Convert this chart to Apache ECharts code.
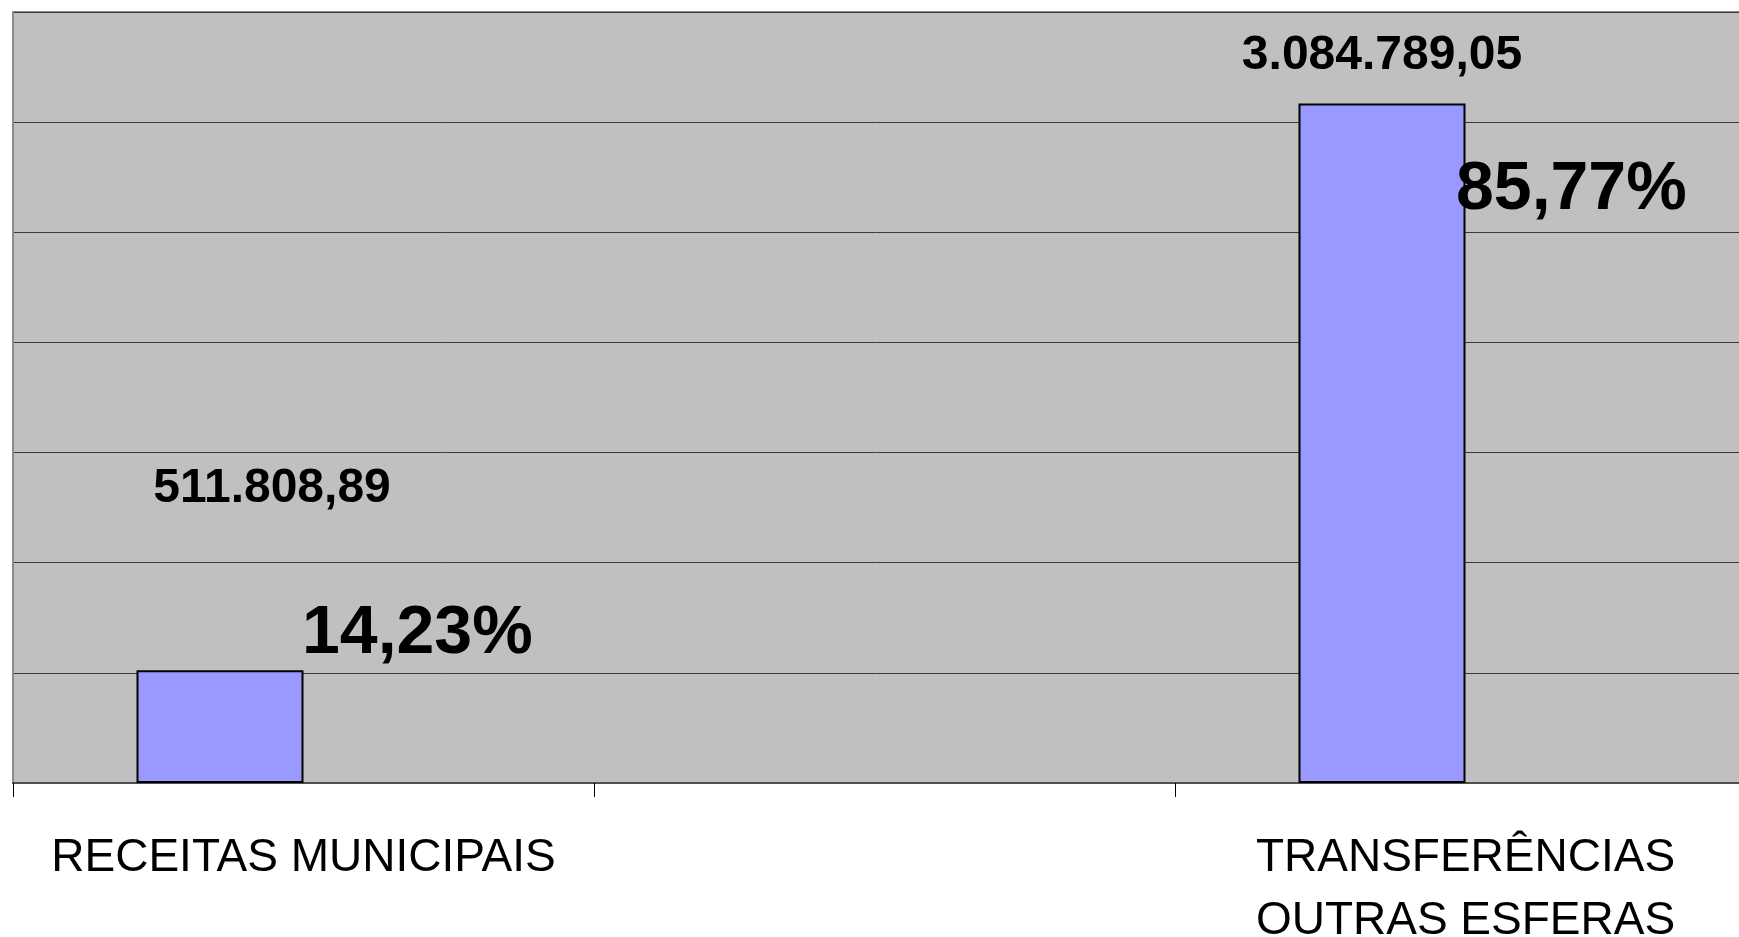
<!DOCTYPE html>
<html>
<head>
<meta charset="utf-8">
<script src="https://cdn.jsdelivr.net/npm/echarts@6/dist/echarts.min.js"></script>
<style>
html,body{margin:0;padding:0;background:#fff;}
#c{width:1739px;height:937px;}
</style>
</head>
<body>
<div id="c"></div>
<script>
const categories = ['RECEITAS MUNICIPAIS', '', 'TRANSFERÊNCIAS\nOUTRAS ESFERAS'];
const values = [511808.89, null, 3084789.05];
const valueLabels = ['511.808,89', '', '3.084.789,05'];
const percents = [14.23, null, 85.77];
const percentLabels = ['14,23%', '', '85,77%'];
const yMax = 3500000, yInterval = 500000;

const boldFont = '"Liberation Sans", Arial, sans-serif';
const valueLabelOffsets = [[52, -152], null, [0, -19]];
const percentLabelOffsets = [[-85, 0], null, [-93, 108]];

const chart = echarts.init(document.getElementById('c'));
chart.setOption({
  animation: false,
  grid: {
    left: 13, top: 12, bottom: 154, width: 1743,
    outerBoundsMode: 'none',
    show: true, backgroundColor: '#c0c0c0', borderColor: '#8c8c8c', borderWidth: 2
  },
  xAxis: {
    type: 'category',
    data: categories,
    axisLine: {lineStyle: {color: '#505050', width: 2}},
    axisTick: {show: true, length: 14, lineStyle: {color: '#000', width: 1}},
    axisLabel: {
      color: '#000', fontFamily: '"Liberation Sans", Arial, sans-serif', fontSize: 46,
      lineHeight: 63, margin: 44, interval: 0
    }
  },
  yAxis: [{
    type: 'value', min: 0, max: yMax, interval: yInterval,
    axisLine: {show: true, lineStyle: {color: '#8c8c8c', width: 2}},
    axisTick: {show: false}, axisLabel: {show: false},
    splitLine: {lineStyle: {color: '#3a3a3a', width: 1}}
  }, {
    type: 'value', min: 0, max: 100, show: false, splitLine: {show: false}
  }],
  series: [{
    type: 'bar',
    data: values.map((v, i) => v == null ? null : {
      value: v,
      label: {offset: valueLabelOffsets[i]}
    }),
    barWidth: 167, barGap: '0%',
    itemStyle: {color: '#9999ff', borderColor: '#000', borderWidth: 2},
    label: {
      show: true, position: 'top',
      formatter: p => valueLabels[p.dataIndex],
      color: '#000', fontFamily: boldFont, fontWeight: 'bold', fontSize: 48
    }
  }, {
    type: 'bar', yAxisIndex: 1,
    data: percents.map((v, i) => v == null ? null : {
      value: v,
      label: {offset: percentLabelOffsets[i]}
    }),
    barWidth: 167, barGap: '0%',
    itemStyle: {color: 'rgba(0,0,0,0)'},
    label: {
      show: true, position: 'top', align: 'left',
      formatter: p => percentLabels[p.dataIndex],
      color: '#000', fontFamily: boldFont, fontWeight: 'bold', fontSize: 68
    }
  }]
});
</script>
</body>
</html>
